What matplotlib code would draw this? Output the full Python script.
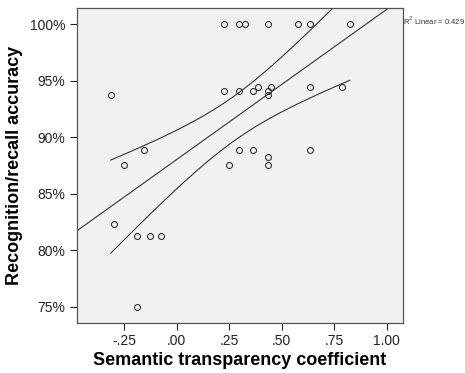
import numpy as np
import matplotlib.pyplot as plt
from matplotlib.ticker import FuncFormatter

# semantic transparency coefficient vs recognition/recall accuracy (%)
coef = [0.225, 0.297, 0.325, 0.436, 0.576, 0.636, 0.824,
        -0.314, 0.225, 0.297, 0.363, 0.386, 0.436, 0.436, 0.449, 0.636, 0.789,
        -0.157, 0.297, 0.363, 0.636, 0.436, 0.436, -0.252, 0.249,
        -0.299, -0.187, -0.127, -0.076, -0.187]
accuracy = [100, 100, 100, 100, 100, 100, 100,
            93.75, 94.12, 94.12, 94.12, 94.44, 94.12, 93.75, 94.44, 94.44, 94.44,
            88.89, 88.89, 88.89, 88.89, 88.24, 87.5, 87.5, 87.5,
            82.35, 81.25, 81.25, 81.25, 75]
xticks = [-0.25, 0.0, 0.25, 0.5, 0.75, 1.0]
yticks = [75, 80, 85, 90, 95, 100]
r2_label = "R$^2$ Linear = 0.429"

x = np.array(coef)
y = np.array(accuracy)
n = len(x)

# linear fit and 95% confidence band for the mean
slope, intercept = np.polyfit(x, y, 1)
pred = intercept + slope * x
s = np.sqrt(np.sum((y - pred) ** 2) / (n - 2))
t = 2.048
xs = np.linspace(x.min(), x.max(), 200)
se = s * np.sqrt(1 / n + (xs - x.mean()) ** 2 / np.sum((x - x.mean()) ** 2))
fit = intercept + slope * xs

plt.rcParams['font.family'] = ['Liberation Sans', 'DejaVu Sans']
fig = plt.figure(figsize=(4.65, 3.73), dpi=100)
ax = fig.add_axes([0.165, 0.135, 0.701, 0.843])
ax.set_facecolor('#f0f1f3')

xl = np.array([-0.476, 1.076])
ax.plot(xl, intercept + slope * xl, color='#333333', lw=0.8)
ax.plot(xs, fit + t * se, color='#333333', lw=0.8)
ax.plot(xs, fit - t * se, color='#333333', lw=0.8)
ax.plot(x, y, 'o', mfc='none', mec='#333333', ms=4.3, mew=0.8)

ax.set_xlim(-0.476, 1.076)
ax.set_ylim(73.58, 101.42)
ax.set_xticks(xticks)
ax.set_yticks(yticks)
ax.xaxis.set_major_formatter(FuncFormatter(lambda v, p: f"{v:.2f}".replace("0.", ".")))
ax.yaxis.set_major_formatter(FuncFormatter(lambda v, p: f"{v:.0f}%"))
ax.tick_params(labelsize=10, colors='#222222', length=5, width=0.8, pad=3)
for sp in ax.spines.values():
    sp.set_color('#555555')
    sp.set_linewidth(0.9)

ax.set_xlabel("Semantic transparency coefficient", fontsize=13, fontweight='bold', labelpad=3)
ax.set_ylabel("Recognition/recall accuracy", fontsize=13, fontweight='bold', labelpad=5)
fig.text(0.866, 0.934, r2_label, fontsize=5.5, color='#333333')

plt.savefig("out.png", dpi=100)
